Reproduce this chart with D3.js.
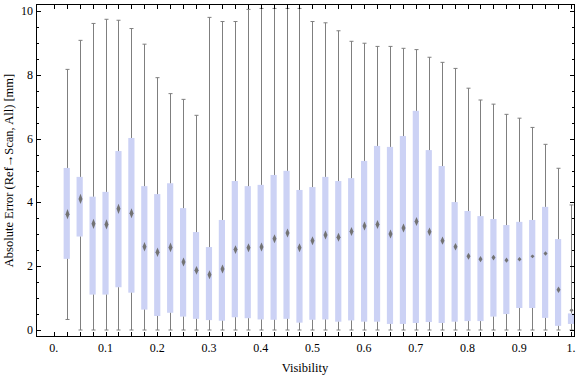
<!DOCTYPE html>
<html>
<head>
<meta charset="utf-8">
<script src="https://cdn.jsdelivr.net/npm/d3@7"></script>
<style>
  body { margin: 0; background: #fff; }
  svg { display: block; }
</style>
</head>
<body>
<script>
// box positions (visibility)
const visibility = [0.025, 0.05, 0.075, 0.1, 0.125, 0.15, 0.175, 0.2, 0.225, 0.25,
  0.275, 0.3, 0.325, 0.35, 0.375, 0.4, 0.425, 0.45, 0.475, 0.5,
  0.525, 0.55, 0.575, 0.6, 0.625, 0.65, 0.675, 0.7, 0.725, 0.75,
  0.775, 0.8, 0.825, 0.85, 0.875, 0.9, 0.925, 0.95, 0.975, 1.0];

const whiskerHi = [8.17, 9.08, 9.61, 9.74, 9.71, 9.45, 8.96, 7.91, 7.41, 7.23,
  6.73, 9.80, 9.67, 9.67, 10.05, 10.08, 10.08, 10.08, 10.08, 9.67,
  9.63, 9.38, 9.05, 8.99, 8.89, 8.89, 8.83, 8.79, 8.55, 8.39,
  8.20, 7.58, 7.21, 7.08, 6.76, 6.64, 6.35, 5.82, 5.07, 3.92];

const q3 = [5.08, 4.80, 4.18, 4.33, 5.61, 6.02, 4.51, 4.26, 4.60, 3.82,
  3.07, 2.60, 3.45, 4.67, 4.51, 4.55, 4.86, 4.99, 4.39, 4.48,
  4.80, 4.67, 4.76, 5.30, 5.77, 5.74, 6.08, 6.87, 5.64, 5.14,
  4.01, 3.73, 3.57, 3.48, 3.29, 3.39, 3.45, 3.86, 2.85, 0.52];

const q1 = [2.23, 2.93, 1.11, 1.11, 1.34, 1.17, 0.64, 0.44, 0.54, 0.42,
  0.35, 0.31, 0.29, 0.40, 0.37, 0.33, 0.32, 0.35, 0.23, 0.32,
  0.33, 0.26, 0.30, 0.26, 0.26, 0.19, 0.19, 0.22, 0.25, 0.22,
  0.26, 0.28, 0.28, 0.42, 0.50, 0.69, 0.69, 0.38, 0.13, 0.19];

const whiskerLo = [0.33, 0, 0, 0, 0, 0, 0, 0, 0, 0,
  0, 0, 0, 0, 0, 0, 0, 0, 0, 0,
  0, 0, 0, 0, 0, 0, 0, 0, 0, 0,
  0, 0, 0, 0, 0, 0, 0, 0, 0, 0];

const mean = [3.63, 4.11, 3.33, 3.31, 3.80, 3.66, 2.61, 2.44, 2.59, 2.13,
  1.87, 1.73, 1.91, 2.52, 2.58, 2.60, 2.86, 3.04, 2.58, 2.80,
  2.98, 2.91, 3.09, 3.26, 3.31, 3.01, 3.20, 3.40, 3.08, 2.80,
  2.61, 2.31, 2.22, 2.27, 2.19, 2.22, 2.31, 2.40, 1.26, 0.62];

// half height of the mean diamond (mm)
const meanSpread = [0.16, 0.16, 0.16, 0.16, 0.16, 0.16, 0.15, 0.15, 0.15, 0.14,
  0.14, 0.14, 0.14, 0.14, 0.14, 0.14, 0.14, 0.14, 0.14, 0.14,
  0.14, 0.14, 0.14, 0.14, 0.14, 0.14, 0.14, 0.14, 0.13, 0.13,
  0.12, 0.11, 0.1, 0.09, 0.08, 0.07, 0.06, 0.07, 0.1, 0.06];

const xTickLabels = ["0.", "0.1", "0.2", "0.3", "0.4", "0.5", "0.6", "0.7", "0.8", "0.9", "1."];
const xTickValues = [0, 0.1, 0.2, 0.3, 0.4, 0.5, 0.6, 0.7, 0.8, 0.9, 1.0];
const yTickValues = [0, 2, 4, 6, 8, 10];

const W = 576, H = 377;
const L = 36, R = 575, T = 4, B = 337;

const x = d3.scaleLinear().domain([0, 1]).range([53.8, 571]);
const y = d3.scaleLinear().domain([0, 10]).range([330, 11]);

const svg = d3.select("body").append("svg")
  .attr("width", W).attr("height", H)
  .attr("font-family", "'Liberation Serif', 'Times New Roman', serif");

const defs = svg.append("defs");
defs.append("clipPath").attr("id", "plot")
  .append("rect").attr("x", L).attr("y", T).attr("width", R - L).attr("height", B - T);
defs.append("filter").attr("id", "soft")
  .append("feGaussianBlur").attr("stdDeviation", 0.45);

const data = visibility.map((v, i) => ({
  v, lo: whiskerLo[i], q1: q1[i], q3: q3[i], hi: whiskerHi[i],
  m: mean[i], s: meanSpread[i]
}));

const g = svg.append("g").attr("clip-path", "url(#plot)");
const bw = 6.2, cap = 4;

// boxes
g.selectAll("rect.box").data(data).join("rect")
  .attr("class", "box")
  .attr("x", d => x(d.v) - bw / 2)
  .attr("width", bw)
  .attr("y", d => y(d.q3))
  .attr("height", d => y(d.q1) - y(d.q3))
  .attr("fill", "#ccd2f5");

// whiskers
const wk = g.append("g").attr("stroke", "#7f7f7f").attr("stroke-width", 1).attr("fill", "none");
wk.selectAll("path.up").data(data).join("path")
  .attr("d", d => {
    const cx = Math.round(x(d.v)) + 0.5;
    return `M${cx},${y(d.q3)}V${y(d.hi)}M${cx - cap / 2},${y(d.hi)}H${cx + cap / 2}`;
  });
wk.selectAll("path.dn").data(data).join("path")
  .attr("d", d => {
    const cx = Math.round(x(d.v)) + 0.5;
    return `M${cx},${y(d.q1)}V${y(d.lo)}M${cx - cap / 2},${y(d.lo)}H${cx + cap / 2}`;
  });

// mean diamonds
g.selectAll("path.mean").data(data).join("path")
  .attr("fill", "#737373")
  .attr("filter", "url(#soft)")
  .attr("d", d => {
    const cx = Math.round(x(d.v)) + 0.5;
    const t = y(d.m + d.s), b = y(d.m - d.s), c = y(d.m);
    return `M${cx},${t}L${cx + 2},${c}L${cx},${b}L${cx - 2},${c}Z`;
  });

// frame
svg.append("rect").attr("x", L + 0.5).attr("y", T + 0.5)
  .attr("width", R - L - 1).attr("height", B - T - 1)
  .attr("fill", "none").attr("stroke", "#000").attr("stroke-width", 1);

// x ticks: every box position and 0
const xTicks = [0].concat(visibility);
const tk = svg.append("g").attr("stroke", "#000").attr("stroke-width", 1);
tk.selectAll("line.xb").data(xTicks).join("line")
  .attr("x1", d => Math.round(x(d)) + 0.5).attr("x2", d => Math.round(x(d)) + 0.5)
  .attr("y1", B).attr("y2", B - 5);
tk.selectAll("line.xt").data(xTicks).join("line")
  .attr("x1", d => Math.round(x(d)) + 0.5).attr("x2", d => Math.round(x(d)) + 0.5)
  .attr("y1", T).attr("y2", T + 5);

// y ticks: major every 2, minor every 0.5
const yMinor = d3.range(0, 10.01, 0.5).filter(v => v % 2 !== 0);
[[yTickValues, 5], [yMinor, 3]].forEach(([vals, len]) => {
  tk.selectAll(null).data(vals).join("line")
    .attr("y1", d => Math.round(y(d)) + 0.5).attr("y2", d => Math.round(y(d)) + 0.5)
    .attr("x1", L).attr("x2", L + len);
  tk.selectAll(null).data(vals).join("line")
    .attr("y1", d => Math.round(y(d)) + 0.5).attr("y2", d => Math.round(y(d)) + 0.5)
    .attr("x1", R).attr("x2", R - len);
});

// tick labels
svg.selectAll("text.xl").data(xTickValues).join("text")
  .attr("x", d => x(d)).attr("y", 352)
  .attr("text-anchor", "middle").attr("font-size", 12)
  .text((d, i) => xTickLabels[i]);

svg.selectAll("text.yl").data(yTickValues).join("text")
  .attr("x", 33).attr("y", d => y(d) + 4)
  .attr("text-anchor", "end").attr("font-size", 12)
  .text(d => d);

// axis labels
svg.append("text").attr("x", 305).attr("y", 372)
  .attr("text-anchor", "middle").attr("font-size", 12.5)
  .text("Visibility");

svg.append("text")
  .attr("transform", `translate(13,${(T + B) / 2}) rotate(-90)`)
  .attr("text-anchor", "middle").attr("font-size", 12.5)
  .text("Absolute Error (Ref\u2192Scan, All) [mm]");
</script>
</body>
</html>
